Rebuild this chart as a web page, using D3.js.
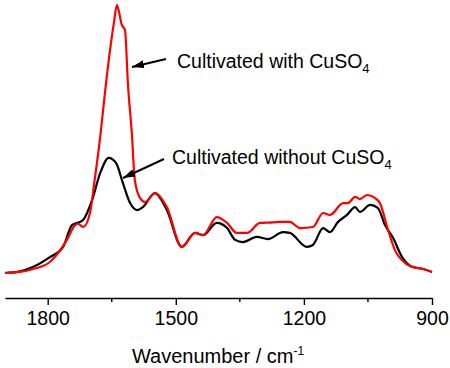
<!DOCTYPE html>
<html>
<head>
<meta charset="utf-8">
<script src="https://cdn.jsdelivr.net/npm/d3@7"></script>
<style>
  body { margin: 0; background: #fff; }
  svg { display: block; font-family: 'Liberation Sans', Arial, sans-serif; }
</style>
</head>
<body>
<div id="chart"></div>
<script>
// wavenumber (cm-1) / intensity
const blackWn = [1900, 1865, 1835, 1795, 1764, 1743, 1724, 1717, 1696, 1677, 1657, 1640, 1624, 1607, 1591, 1577, 1549, 1521, 1486, 1455, 1436, 1404, 1380, 1361, 1343, 1310, 1284, 1249, 1233, 1193, 1179, 1155, 1139, 1120, 1099, 1080, 1069, 1045, 1027, 1010, 991, 970, 945, 921, 900]
const blackVal = [0, 0.006, 0.022, 0.059, 0.097, 0.178, 0.190, 0.197, 0.271, 0.372, 0.428, 0.409, 0.335, 0.260, 0.234, 0.245, 0.297, 0.234, 0.097, 0.149, 0.141, 0.186, 0.167, 0.123, 0.115, 0.134, 0.126, 0.152, 0.149, 0.097, 0.104, 0.167, 0.152, 0.190, 0.216, 0.245, 0.227, 0.253, 0.242, 0.178, 0.130, 0.059, 0.022, 0.015, 0.004]

const redWn = [1900, 1865, 1834, 1795, 1755, 1736, 1729, 1717, 1701, 1690, 1677, 1666, 1654, 1645, 1638, 1633, 1627, 1619, 1612, 1603, 1596, 1584, 1572, 1549, 1521, 1486, 1455, 1436, 1404, 1380, 1357, 1333, 1303, 1272, 1256, 1233, 1209, 1179, 1155, 1139, 1108, 1097, 1080, 1069, 1052, 1034, 1022, 1005, 987, 963, 945, 921, 900]
const redVal = [0, 0.004, 0.015, 0.041, 0.123, 0.178, 0.183, 0.171, 0.223, 0.346, 0.506, 0.669, 0.829, 0.93, 0.996, 0.97, 0.925, 0.903, 0.70, 0.520, 0.346, 0.279, 0.264, 0.297, 0.245, 0.097, 0.149, 0.141, 0.208, 0.186, 0.149, 0.149, 0.186, 0.188, 0.190, 0.190, 0.167, 0.171, 0.223, 0.216, 0.260, 0.260, 0.283, 0.275, 0.290, 0.279, 0.260, 0.171, 0.086, 0.037, 0.022, 0.015, 0.004]

const majorTicks = [1800, 1500, 1200, 900]
const minorTicks = [1650, 1350, 1050]
const xTitle = 'Wavenumber / cm'

const width = 450
const height = 368

const svg = d3.select('#chart')
  .append('svg')
  .attr('width', width)
  .attr('height', height)

const xScale = d3.scaleLinear()
  .domain([1900, 900])
  .range([5, 432])

const yScale = d3.scaleLinear()
  .domain([0, 1])
  .range([273, 4])

// x axis
const axisY = 298
const xAxis = d3.axisBottom(xScale)
  .tickValues(majorTicks)
  .tickSize(7)
  .tickSizeOuter(0)
  .tickPadding(6)
  .tickFormat(d3.format('d'))

const gx = svg.append('g')
  .attr('transform', `translate(0,${axisY})`)
  .call(xAxis)
gx.select('.domain').attr('stroke', '#000').attr('stroke-width', 1.6)
gx.selectAll('.tick line').attr('stroke', '#000').attr('stroke-width', 1.4)
gx.selectAll('.tick text')
  .attr('fill', '#000')
  .style('font-size', '19.5px')
  .style('font-family', "'Liberation Sans', Arial, sans-serif")

gx.selectAll('.minor')
  .data(minorTicks)
  .enter().append('line')
  .attr('class', 'minor')
  .attr('x1', d => xScale(d))
  .attr('x2', d => xScale(d))
  .attr('y1', 0)
  .attr('y2', 4)
  .attr('stroke', '#000')
  .attr('stroke-width', 1.4)

const title = svg.append('text')
  .attr('x', 218)
  .attr('y', 363)
  .attr('text-anchor', 'middle')
  .style('font-size', '20px')
  .text(xTitle)
title.append('tspan')
  .attr('dy', -8)
  .style('font-size', '12px')
  .text('-1')

// spectra
const line = d3.line()
  .x(d => xScale(d[0]))
  .y(d => yScale(d[1]))
  .curve(d3.curveMonotoneX)

const blackData = blackWn.map((w, i) => [w, blackVal[i]])
const redData = redWn.map((w, i) => [w, redVal[i]])

svg.append('path')
  .datum(blackData)
  .attr('d', line)
  .attr('fill', 'none')
  .attr('stroke', '#000')
  .attr('stroke-width', 2.2)

svg.append('path')
  .datum(redData)
  .attr('d', line)
  .attr('fill', 'none')
  .attr('stroke', '#ff0000')
  .attr('stroke-width', 2.2)

// annotations
svg.append('defs').append('marker')
  .attr('id', 'arrow')
  .attr('viewBox', '0 0 12 8')
  .attr('refX', 12)
  .attr('refY', 4)
  .attr('markerWidth', 12)
  .attr('markerHeight', 8)
  .attr('markerUnits', 'userSpaceOnUse')
  .attr('orient', 'auto')
  .append('path')
  .attr('d', 'M0,0 L12,4 L0,8 Z')
  .attr('fill', '#000')

const notes = [
  { label: 'Cultivated with CuSO', x: 177, y: 68, from: [166, 59], to: [132, 67] },
  { label: 'Cultivated without CuSO', x: 172, y: 164, from: [164, 159], to: [123, 178] }
]

notes.forEach(n => {
  const t = svg.append('text')
    .attr('x', n.x)
    .attr('y', n.y)
    .style('font-size', '19.5px')
    .text(n.label)
  t.append('tspan')
    .attr('dy', 5)
    .style('font-size', '13px')
    .text('4')

  svg.append('line')
    .attr('x1', n.from[0])
    .attr('y1', n.from[1])
    .attr('x2', n.to[0])
    .attr('y2', n.to[1])
    .attr('stroke', '#000')
    .attr('stroke-width', 2)
    .attr('marker-end', 'url(#arrow)')
})
</script>
</body>
</html>
